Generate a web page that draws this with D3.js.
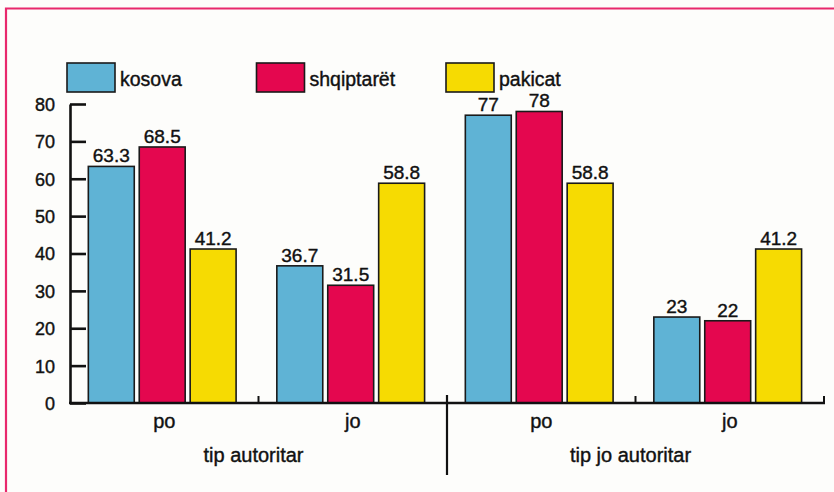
<!DOCTYPE html>
<html>
<head>
<meta charset="utf-8">
<script src="https://cdn.jsdelivr.net/npm/d3@7"></script>
<style>
  body { margin: 0; background: #fdfdfb; }
  svg text { font-family: "Liberation Sans", Arial, sans-serif; fill: #111; stroke: #111; stroke-width: 0.4; }
</style>
</head>
<body>
<div id="chart"></div>
<script>
// data
const groups = ["tip autoritar", "tip jo autoritar"]
const answers = ["po", "jo"]
const series = ["kosova", "shqiptarët", "pakicat"]
const kosova = [63.3, 36.7, 77, 23]
const shqiptaret = [68.5, 31.5, 78, 22]
const pakicat = [41.2, 58.8, 58.8, 41.2]
const yTicks = [0, 10, 20, 30, 40, 50, 60, 70, 80]

const colors = ["#5fb3d5", "#e4074f", "#f6db02"]
const values = [kosova, shqiptaret, pakicat]

const width = 834, height = 492
const svg = d3.select("#chart").append("svg")
  .attr("width", width)
  .attr("height", height)

// pink frame
svg.append("path")
  .attr("d", "M6,492 V8.5 H834")
  .attr("fill", "none")
  .attr("stroke", "#e8286c")
  .attr("stroke-width", 2.2)

// one column per group/answer pair
const cols = []
groups.forEach((g, gi) => answers.forEach((a, ai) => cols.push({ key: gi + "-" + ai, group: g, answer: a, idx: gi * 2 + ai })))

const x0 = d3.scaleBand()
  .domain(cols.map(d => d.key))
  .range([70, 824])
  .padding(0)

const x1 = d3.scaleBand()
  .domain(series)
  .range([0, x0.bandwidth()])
  .paddingInner(0.098)
  .paddingOuter(0.4)
  .align(0.45)

const y = d3.scaleLinear()
  .domain([0, 80])
  .range([403, 104])

// bars
const colG = svg.append("g").classed("bars", true)
  .selectAll("g")
  .data(cols)
  .enter().append("g")
  .attr("transform", d => `translate(${x0(d.key)},0)`)

const barData = d => series.map((s, si) => ({ s: s, si: si, v: values[si][d.idx] }))

colG.selectAll("rect")
  .data(barData)
  .enter().append("rect")
  .attr("x", d => x1(d.s))
  .attr("y", d => y(d.v))
  .attr("width", x1.bandwidth())
  .attr("height", d => y(0) - y(d.v))
  .attr("fill", d => colors[d.si])
  .attr("stroke", "#1a1a1a")
  .attr("stroke-width", 1.6)

colG.selectAll("text")
  .data(barData)
  .enter().append("text")
  .attr("x", d => x1(d.s) + x1.bandwidth() / 2)
  .attr("y", d => y(d.v) - 4)
  .attr("text-anchor", "middle")
  .style("font-size", "19px")
  .text(d => d.v)

// y axis, ticks pointing inward
const yAxis = svg.append("g")
  .attr("transform", "translate(70,0)")
  .call(d3.axisLeft(y).tickValues(yTicks).tickSizeInner(-16).tickSizeOuter(0).tickPadding(15))
yAxis.select(".domain").attr("stroke", "#111").attr("stroke-width", 2.6)
yAxis.selectAll(".tick line").attr("stroke", "#111").attr("stroke-width", 2.6)
yAxis.selectAll(".tick text")
  .attr("dy", "0.36em")
  .style("font-size", "18px")
  .style("font-family", "'Liberation Sans', Arial, sans-serif")
  .attr("fill", "#111")

// x axis
const xg = svg.append("g").classed("x-axis", true)
xg.append("line")
  .attr("x1", 69).attr("x2", x0.range()[1] + 1)
  .attr("y1", y(0)).attr("y2", y(0))
  .attr("stroke", "#111").attr("stroke-width", 2.6)

const smallTicks = [x0(cols[1].key), x0(cols[3].key), x0.range()[1]]
xg.selectAll("line.tk")
  .data(smallTicks)
  .enter().append("line")
  .attr("class", "tk")
  .attr("x1", d => d).attr("x2", d => d)
  .attr("y1", y(0)).attr("y2", y(0) - 7)
  .attr("stroke", "#111").attr("stroke-width", 2)

// separator between the two groups
xg.append("line")
  .attr("x1", x0(cols[2].key)).attr("x2", x0(cols[2].key))
  .attr("y1", y(0) - 8).attr("y2", 475)
  .attr("stroke", "#111").attr("stroke-width", 2.2)

xg.selectAll("text.answer")
  .data(cols)
  .enter().append("text")
  .attr("class", "answer")
  .attr("x", d => x0(d.key) + x0.bandwidth() / 2)
  .attr("y", 428)
  .attr("text-anchor", "middle")
  .style("font-size", "20px")
  .text(d => d.answer)

xg.selectAll("text.group")
  .data(groups)
  .enter().append("text")
  .attr("class", "group")
  .attr("x", (d, i) => x0(cols[i * 2].key) + x0.bandwidth() - 5)
  .attr("y", 462)
  .attr("text-anchor", "middle")
  .style("font-size", "20px")
  .text(d => d)

// legend
const legend = svg.append("g").classed("legend", true)
  .selectAll("g")
  .data(series)
  .enter().append("g")
  .attr("transform", (d, i) => `translate(${67 + i * 189.5},63)`)

legend.append("rect")
  .attr("width", 48)
  .attr("height", 29)
  .attr("fill", (d, i) => colors[i])
  .attr("stroke", "#1a1a1a")
  .attr("stroke-width", 1.6)

legend.append("text")
  .attr("x", 53)
  .attr("y", 23)
  .style("font-size", "19.5px")
  .text(d => d)
</script>
</body>
</html>
